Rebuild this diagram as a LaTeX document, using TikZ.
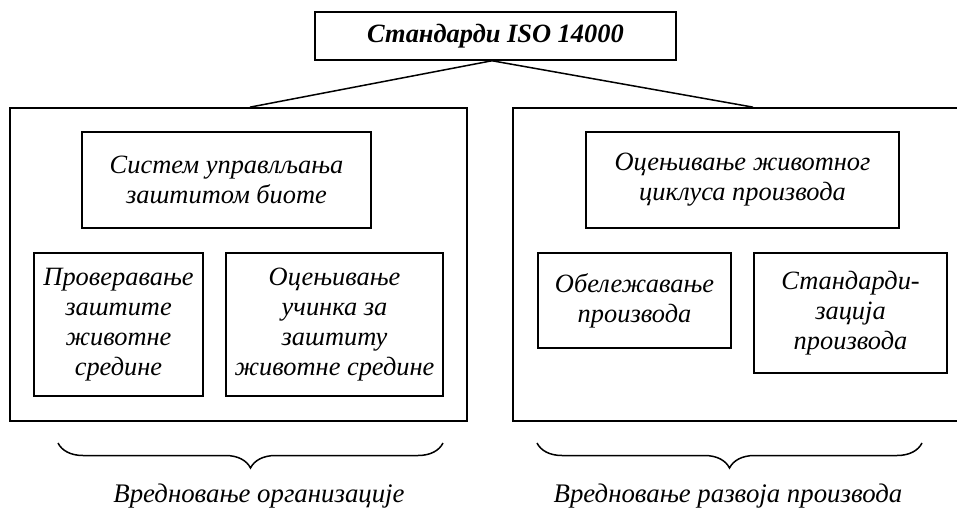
\documentclass[tikz,border=0pt]{standalone}
\usepackage{fontspec}
\setmainfont{Liberation Serif}
\usetikzlibrary{positioning,calc,decorations.pathreplacing}

\begin{document}
\begin{tikzpicture}[x=0.5pt,y=-0.5pt,
  box/.style={draw,line width=0.75pt,rectangle,inner sep=0pt,align=center,
    font=\itshape\fontsize{13.2}{15}\selectfont},
  outer/.style={draw,line width=0.85pt,rectangle,inner sep=0pt},
  brc/.style={decorate,decoration={brace,mirror,amplitude=12.5pt},line width=0.75pt},
  note/.style={anchor=base,font=\itshape\fontsize{13.4}{15}\selectfont}]
\useasboundingbox (0,0) rectangle (957,508);
% top of the hierarchy
\node[box,minimum width=180.5pt,minimum height=24pt,font=\bfseries\itshape\fontsize{13.2}{15}\selectfont]
  (iso) at (495.5,36) {Стандарди ISO 14000};
% the two groups
\node[outer,minimum width=228.5pt,minimum height=156.5pt] (lb) at (238.5,264.5) {};
\node[outer,minimum width=240pt,minimum height=156.5pt] (rb) at (753,264.5) {};
\draw[line width=0.75pt] ($(iso.south)+(-3.5,0)$) -- ($(lb.north)+(11.5,0)$);
\draw[line width=0.75pt] ($(iso.south)+(-3.5,0)$) -- (rb.north);
% left group
\node[box,minimum width=144.5pt,minimum height=48pt] (sys) at (226.5,180)
  {Систем управлљања\\ заштитом биоте};
\node[box,minimum width=84.5pt,minimum height=71.5pt] (prov) at (118.5,324.5)
  {Проверавање\\ заштите\\ животне\\ средине};
\node[box,minimum width=108.5pt,minimum height=71.5pt] (ocu) at (334.5,324.5)
  {Оцењивање\\ учинка за\\ заштиту\\ животне средине};
% right group
\node[box,minimum width=156.5pt,minimum height=48pt] (lca) at (742.5,180)
  {Оцењивање животног\\ циклуса производа};
\node[box,minimum width=96.5pt,minimum height=47.5pt] (obel) at (634.5,300.5)
  {Обележавање\\ производа};
\node[box,minimum width=96.5pt,minimum height=60pt] (stand) at (850.5,313)
  {Стандарди-\\ зација\\ производа};
% braces and what they stand for
\coordinate (l1) at (58,443);
\coordinate (l2) at (443,443);
\coordinate (r1) at (537,443);
\coordinate (r2) at (922,443);
\draw[brc] (l1) -- (l2);
\draw[brc] (r1) -- (r2);
\node[note] (org) at (259,502) {Вредновање организације};
\node[note] (razv) at (728,502) {Вредновање развоја производа};
\end{tikzpicture}
\end{document}
